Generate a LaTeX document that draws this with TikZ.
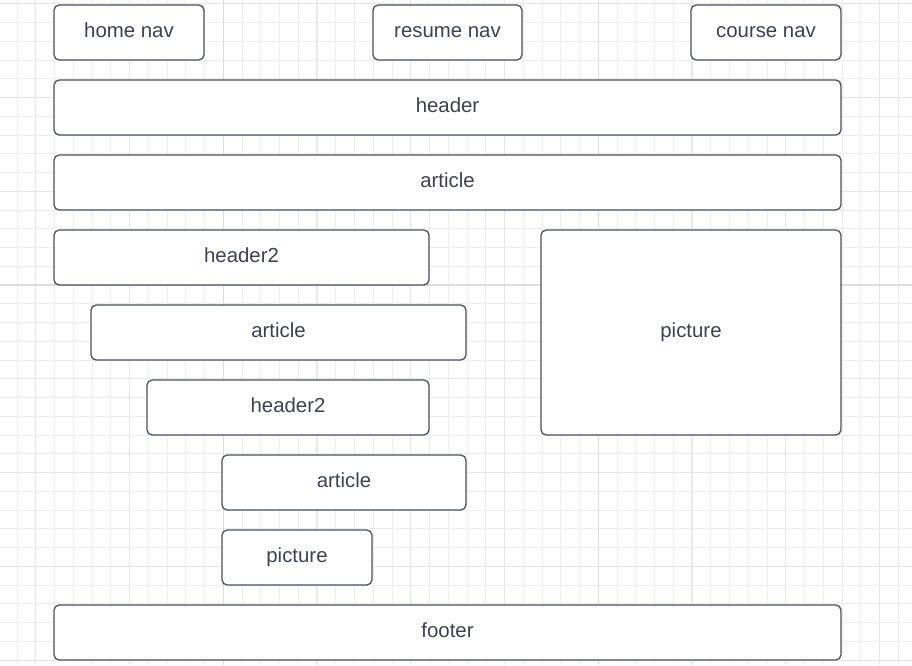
\documentclass[tikz,border=0pt]{standalone}
\usepackage{fontspec}
\setmainfont{Liberation Sans}
\definecolor{gridminor}{HTML}{EDEDED}
\definecolor{gridmid}{HTML}{E6E6E6}
\definecolor{gridmajor}{HTML}{DCDCDC}
\definecolor{boxline}{HTML}{4A4F5A}
\definecolor{boxtext}{HTML}{3D4250}
\tikzset{
  box/.style={draw=boxline,fill=white,line width=0.9pt,rounded corners=0.13cm},
  lbl/.style={text=boxtext,font=\fontsize{14.5}{17}\selectfont,inner sep=0pt,
    text height=10pt,text depth=3.6pt}
}
\begin{document}
\begin{tikzpicture}[x=0.025cm,y=-0.025cm]
  \useasboundingbox (0,0) rectangle (912,665);
  \fill[white] (0,0) rectangle (912,665);
  % grid
  \foreach \i in {0,...,48} \draw[gridminor,line width=0.6pt] ({16.95+18.75*\i},0) -- ++(0,665);
  \foreach \i in {0,...,35} \draw[gridminor,line width=0.6pt] (0,{3.75+18.75*\i}) -- ++(912,0);
  \foreach \i in {0,...,9} \draw[gridmid,line width=0.7pt] ({35.7+93.75*\i},0) -- ++(0,665);
  \foreach \i in {0,...,7} \draw[gridmid,line width=0.7pt] (0,{3.75+93.75*\i}) -- ++(912,0);
  \draw[gridmajor,line width=0.8pt] (223.2,0) -- ++(0,665);
  \draw[gridmajor,line width=0.8pt] (598.2,0) -- ++(0,665);
  \draw[gridmajor,line width=0.8pt] (0,285) -- ++(912,0);
  % nav
  \draw[box] (54,5) rectangle (204,60) node[lbl,midway] (homenav) {home nav};
  \draw[box] (373,5) rectangle (522,60) node[lbl,midway] (resumenav) {resume nav};
  \draw[box] (691,5) rectangle (841,60) node[lbl,midway] (coursenav) {course nav};
  % page
  \draw[box] (54,80) rectangle (841,135) node[lbl,midway] (header) {header};
  \draw[box] (54,155) rectangle (841,210) node[lbl,midway] (article) {article};
  \draw[box] (54,230) rectangle (429,285) node[lbl,midway] (headerA) {header2};
  \draw[box] (541,230) rectangle (841,435) node[lbl,midway] (pictureA) {picture};
  \draw[box] (91,305) rectangle (466,360) node[lbl,midway] (articleA) {article};
  \draw[box] (147,380) rectangle (429,435) node[lbl,midway] (headerB) {header2};
  \draw[box] (222,455) rectangle (466,510) node[lbl,midway] (articleB) {article};
  \draw[box] (222,530) rectangle (372,585) node[lbl,midway] (pictureB) {picture};
  \draw[box] (54,605) rectangle (841,660) node[lbl,midway] (footer) {footer};
\end{tikzpicture}
\end{document}
